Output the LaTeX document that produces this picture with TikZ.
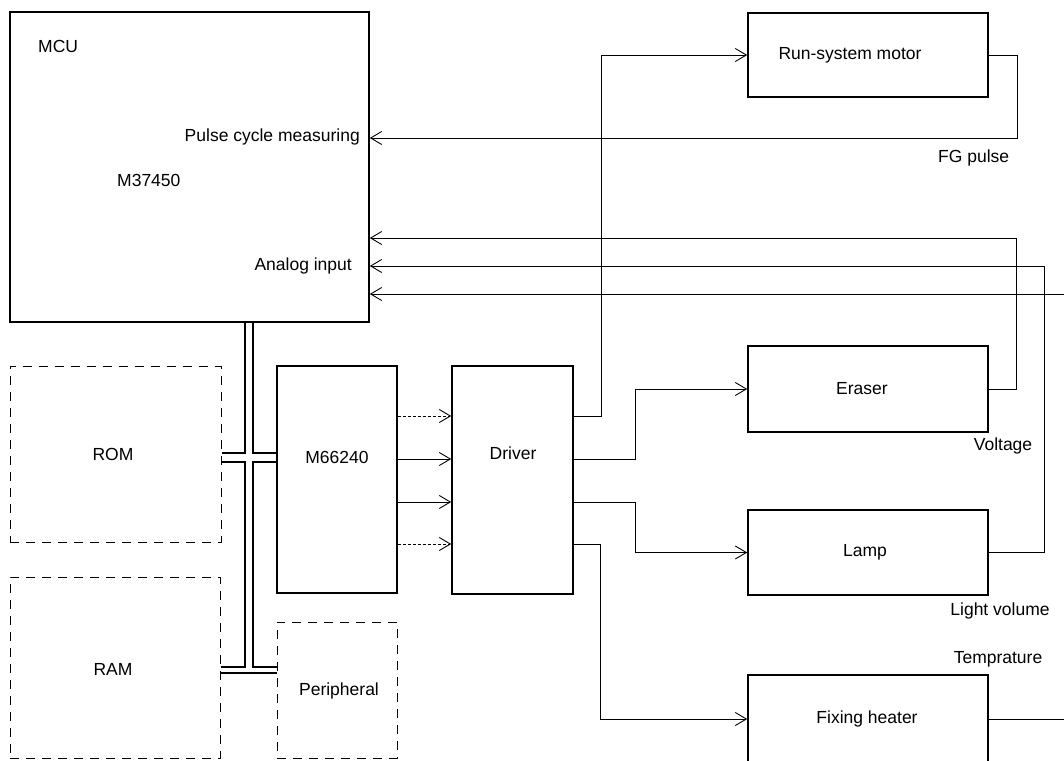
\documentclass[tikz,border=0pt]{standalone}
\usepackage{fontspec}
\setmainfont{Liberation Sans}
\usetikzlibrary{arrows.meta}
\tikzset{
	% Two box styles for the blocks: solid and dashed
	solid box/.style={draw,line width=1.6pt,inner sep=0pt},
	dashed box/.style={draw,line width=1pt,dash pattern=on 9pt off 7pt,inner sep=0pt},
	sig/.style={line width=0.9pt},
	arr/.style={sig,-{Straight Barb[length=11pt,width=13pt,line width=0.9pt]}},
	faint/.style={dash pattern=on 3pt off 2pt},
	bus/.style={line width=1.2pt}
}

\begin{document}
\begin{tikzpicture}[x=1pt,y=-1pt,font=\fontsize{17.5}{21}\selectfont]
			\clip (0,0) rectangle (1064,760);
			% macro for putting a text at a point
			\newcommand{\lbl}[3][]{\node[inner sep=0pt,#1]at(#2){#3};}
			
			% blocks
			\node(mcu)[solid box,minimum width=359pt,minimum height=310pt] at (189.5,167){};
			\node(mot)[solid box,minimum width=240pt,minimum height=84pt] at (868,55){};
			\node(era)[solid box,minimum width=240pt,minimum height=86pt] at (868,389){};
			\node(lamp)[solid box,minimum width=240pt,minimum height=85pt] at (868,552.5){};
			\node(heat)[solid box,minimum width=240pt,minimum height=88pt] at (868,719){};
			\node(drv)[solid box,minimum width=121pt,minimum height=228pt] at (512.5,480){};
			\node(m66)[solid box,minimum width=120pt,minimum height=227pt] at (337,479.5){};
			\node(rom)[dashed box,minimum width=211pt,minimum height=176pt] at (115.5,454){};
			\node(ram)[dashed box,minimum width=210pt,minimum height=181pt] at (115,667.5){};
			\node(per)[dashed box,minimum width=120pt,minimum height=136pt] at (337,690){};
			
			% turning points
			\coordinate (fg) at (1017,138);
			\coordinate (vo) at (1016,238);
			\coordinate (lv) at (1044,266);
			\coordinate (tp) at (1064,294);
			\coordinate (tq) at (1064,0);
			\coordinate (d1) at (601,416);
			\coordinate (d2) at (635,459);
			\coordinate (d3) at (635,502);
			\coordinate (d4) at (600,544);
			
			% feedback into the MCU
			\draw[arr] (mot.east) -| (fg) -- (fg -| mcu.east);
			\draw[arr] (era.east) -| (vo) -- (vo -| mcu.east);
			\draw[arr] (lamp.east) -| (lv) -- (lv -| mcu.east);
			\draw[arr] (tp) -- (tp -| mcu.east);
			\draw[sig] (heat.east) -- (heat.east -| tq);
			
			% M66240 to driver
			\draw[arr,faint] (d1 -| m66.east) -- (d1 -| drv.west);
			\draw[arr] (d2 -| m66.east) -- (d2 -| drv.west);
			\draw[arr] (d3 -| m66.east) -- (d3 -| drv.west);
			\draw[arr,faint] (d4 -| m66.east) -- (d4 -| drv.west);
			
			% driver outputs
			\draw[arr] (d1 -| drv.east) -- (d1) |- (mot.west);
			\draw[arr] (d2 -| drv.east) -- (d2) |- (era.west);
			\draw[arr] (d3 -| drv.east) -- (d3) |- (lamp.west);
			\draw[arr] (d4 -| drv.east) -- (d4) |- (heat.west);
			
			% bus
			\coordinate (bl) at (245,453);
			\coordinate (br) at (253,453);
			\coordinate (cl) at (245,462);
			\coordinate (cr) at (253,462);
			\coordinate (el) at (245,667);
			\coordinate (er) at (253,667);
			\coordinate (f) at (0,673);
			\draw[bus] (bl |- mcu.south) -- (bl) -- (bl -| rom.east);
			\draw[bus] (br |- mcu.south) -- (br) -- (br -| m66.west);
			\draw[bus] (cl -| rom.east) -- (cl) -- (el) -- (el -| ram.east);
			\draw[bus] (cr -| m66.west) -- (cr) -- (er) -- (er -| per.west);
			\draw[bus] (f -| ram.east) -- (f -| per.west);
			
			\lbl[anchor=west]{38,46}{MCU}
			\lbl[anchor=east]{360,137}{Pulse cycle measuring}
			\lbl[anchor=west]{117,180}{M37450}
			\lbl[anchor=east]{352,266}{Analog input}
			\lbl{850,55}{Run-system motor}
			\lbl[anchor=west]{938,158}{FG pulse}
			\lbl{862,389}{Eraser}
			\lbl{1003,446}{Voltage}
			\lbl{865,552}{Lamp}
			\lbl{1000,611}{Light volume}
			\lbl{998,659}{Temprature}
			\lbl{867,719}{Fixing heater}
			\lbl{513,453}{Driver}
			\lbl{337,457}{M66240}
			\lbl{113,454}{ROM}
			\lbl{113,669}{RAM}
			\lbl{339,691}{Peripheral}
		\end{tikzpicture}
\end{document}
